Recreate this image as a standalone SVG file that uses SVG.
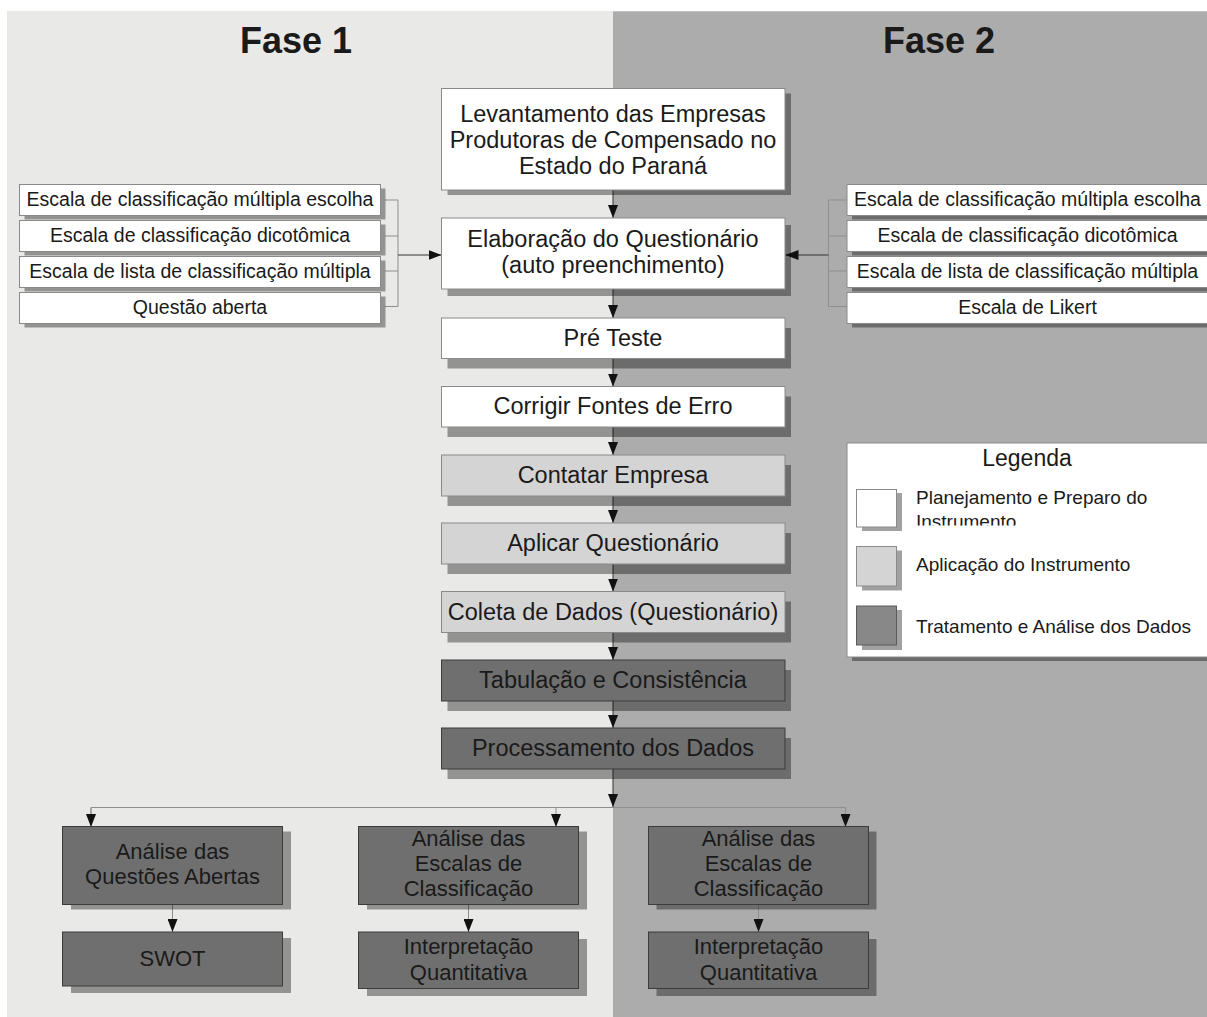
<svg xmlns="http://www.w3.org/2000/svg" width="1207" height="1017" viewBox="0 0 1207 1017">
<defs>
<style>
text{font-family:"Liberation Sans",Arial,sans-serif;fill:#1a1a1a;text-anchor:middle}
.t{font-size:23.5px}
.s{font-size:19.5px}
.b{font-size:22px}
.lg{font-size:19px;text-anchor:start}
.h{font-size:36px;font-weight:bold}
.sh{fill:#000;fill-opacity:0.37}
.w{fill:#fff;stroke:#8a8a8a;stroke-width:1}
.g{fill:#d4d4d4;stroke:#8a8a8a;stroke-width:1}
.d{fill:#6f6f6f;stroke:#3c3c3c;stroke-width:1}
.c{fill:none;stroke:#333;stroke-width:1}
.cl{fill:none;stroke:#8f8f8f;stroke-width:1}
</style>
<marker id="ahd" viewBox="0 0 13 10" refX="13" refY="5" markerWidth="13" markerHeight="10" markerUnits="userSpaceOnUse" orient="auto">
<path d="M0,0 L13,5 L0,10 Z" fill="#111"/>
</marker>
<clipPath id="clipInst"><rect x="900" y="495" width="300" height="30.5"/></clipPath>
</defs>

<g id="background">
<rect x="7" y="11" width="606" height="1006" fill="#e9e9e8"/>
<rect x="613" y="11" width="594" height="1006" fill="#acacac"/>
<line x1="613" y1="11.5" x2="1207" y2="11.5" stroke="#c4c4c4" stroke-width="1"/>
<text class="h" x="296" y="53">Fase 1</text>
<text class="h" x="939" y="53">Fase 2</text>
</g>

<g id="connectors">
<line class="c" x1="613" y1="190" x2="613" y2="218" marker-end="url(#ahd)"/>
<line class="c" x1="613" y1="289" x2="613" y2="318" marker-end="url(#ahd)"/>
<line class="c" x1="613" y1="359" x2="613" y2="386.5" marker-end="url(#ahd)"/>
<line class="c" x1="613" y1="427" x2="613" y2="455" marker-end="url(#ahd)"/>
<line class="c" x1="613" y1="496" x2="613" y2="523" marker-end="url(#ahd)"/>
<line class="c" x1="613" y1="564" x2="613" y2="591.5" marker-end="url(#ahd)"/>
<line class="c" x1="613" y1="632" x2="613" y2="660" marker-end="url(#ahd)"/>
<line class="c" x1="613" y1="701" x2="613" y2="728" marker-end="url(#ahd)"/>
<line class="c" x1="613" y1="769" x2="613" y2="807" marker-end="url(#ahd)"/>
<polyline class="cl" points="91,827 91,807.5 845.5,807.5 845.5,827"/>
<line class="cl" x1="556" y1="807.5" x2="556" y2="827" marker-end="url(#ahd)"/>
<line class="cl" x1="91" y1="807.5" x2="91" y2="827" marker-end="url(#ahd)"/>
<line class="cl" x1="845.5" y1="807.5" x2="845.5" y2="827" marker-end="url(#ahd)"/>
<line class="cl" x1="172.5" y1="904.5" x2="172.5" y2="932" marker-end="url(#ahd)"/>
<line class="cl" x1="468.5" y1="904.5" x2="468.5" y2="932" marker-end="url(#ahd)"/>
<line class="cl" x1="758.5" y1="904.5" x2="758.5" y2="932" marker-end="url(#ahd)"/>
<polyline class="cl" points="385,200 398,200 398,306.5 385,306.5"/>
<line class="cl" x1="385" y1="236" x2="398" y2="236"/>
<line class="cl" x1="385" y1="271" x2="398" y2="271"/>
<line class="c" x1="398" y1="255" x2="441.5" y2="255" marker-end="url(#ahd)"/>
<polyline class="cl" points="847,200 828.5,200 828.5,306.5 847,306.5"/>
<line class="cl" x1="828.5" y1="236" x2="847" y2="236"/>
<line class="cl" x1="828.5" y1="271" x2="847" y2="271"/>
<line class="c" x1="828.5" y1="255" x2="785.5" y2="255" marker-end="url(#ahd)"/>
</g>

<g id="n-levantamento">
<rect class="sh" x="447.5" y="93.5" width="343.5" height="101.5"/>
<rect class="w" x="441.5" y="88.5" width="343.5" height="101.5"/>
<text class="t" x="613" y="121.5">Levantamento das Empresas</text>
<text class="t" x="613" y="147.5">Produtoras de Compensado no</text>
<text class="t" x="613" y="173.5">Estado do Paraná</text>
</g>
<g id="n-elaboracao">
<rect class="sh" x="447.5" y="225" width="343.5" height="71"/>
<rect class="w" x="441.5" y="218" width="343.5" height="71"/>
<text class="t" x="613" y="246.5">Elaboração do Questionário</text>
<text class="t" x="613" y="272.5">(auto preenchimento)</text>
</g>
<g id="n-preteste">
<rect class="sh" x="447.5" y="328" width="343.5" height="40.5"/>
<rect class="w" x="441.5" y="318" width="343.5" height="40.5"/>
<text class="t" x="613" y="346">Pré Teste</text>
</g>
<g id="n-corrigir">
<rect class="sh" x="447.5" y="396.5" width="343.5" height="40.5"/>
<rect class="w" x="441.5" y="386.5" width="343.5" height="40.5"/>
<text class="t" x="613" y="414">Corrigir Fontes de Erro</text>
</g>
<g id="n-contatar">
<rect class="sh" x="447.5" y="465" width="343.5" height="41"/>
<rect class="g" x="441.5" y="455" width="343.5" height="41"/>
<text class="t" x="613" y="483">Contatar Empresa</text>
</g>
<g id="n-aplicar">
<rect class="sh" x="447.5" y="533" width="343.5" height="41"/>
<rect class="g" x="441.5" y="523" width="343.5" height="41"/>
<text class="t" x="613" y="551">Aplicar Questionário</text>
</g>
<g id="n-coleta">
<rect class="sh" x="447.5" y="601.5" width="343.5" height="41"/>
<rect class="g" x="441.5" y="591.5" width="343.5" height="41"/>
<text class="t" x="613" y="619.5">Coleta de Dados (Questionário)</text>
</g>
<g id="n-tabulacao">
<rect class="sh" x="447.5" y="670" width="343.5" height="41"/>
<rect class="d" x="441.5" y="660" width="343.5" height="41"/>
<text class="t" x="613" y="688">Tabulação e Consistência</text>
</g>
<g id="n-processamento">
<rect class="sh" x="447.5" y="738" width="343.5" height="41"/>
<rect class="d" x="441.5" y="728" width="343.5" height="41"/>
<text class="t" x="613" y="756">Processamento dos Dados</text>
</g>

<g id="left-scales">
<rect class="sh" x="24.5" y="188.5" width="361" height="31"/>
<rect class="w" x="19.5" y="184.5" width="361" height="31"/>
<text class="s" x="200" y="206">Escala de classificação múltipla escolha</text>
<rect class="sh" x="24.5" y="224.5" width="361" height="31"/>
<rect class="w" x="19.5" y="220.5" width="361" height="31"/>
<text class="s" x="200" y="242">Escala de classificação dicotômica</text>
<rect class="sh" x="24.5" y="260.5" width="361" height="31"/>
<rect class="w" x="19.5" y="256.5" width="361" height="31"/>
<text class="s" x="200" y="278">Escala de lista de classificação múltipla</text>
<rect class="sh" x="24.5" y="296.5" width="361" height="31"/>
<rect class="w" x="19.5" y="292.5" width="361" height="31"/>
<text class="s" x="200" y="314">Questão aberta</text>
</g>

<g id="right-scales">
<rect class="sh" x="852" y="188.5" width="362" height="31"/>
<rect class="w" x="847" y="184.5" width="362" height="31"/>
<text class="s" x="1027.5" y="206">Escala de classificação múltipla escolha</text>
<rect class="sh" x="852" y="224.5" width="362" height="31"/>
<rect class="w" x="847" y="220.5" width="362" height="31"/>
<text class="s" x="1027.5" y="242">Escala de classificação dicotômica</text>
<rect class="sh" x="852" y="260.5" width="362" height="31"/>
<rect class="w" x="847" y="256.5" width="362" height="31"/>
<text class="s" x="1027.5" y="278">Escala de lista de classificação múltipla</text>
<rect class="sh" x="852" y="296.5" width="362" height="31"/>
<rect class="w" x="847" y="292.5" width="362" height="31"/>
<text class="s" x="1027.5" y="314">Escala de Likert</text>
</g>

<g id="legend">
<rect class="sh" x="852" y="447" width="362" height="214"/>
<rect class="w" x="847" y="443" width="362" height="214"/>
<text x="1027" y="466" style="font-size:23px">Legenda</text>
<rect class="sh" x="862" y="493" width="40" height="38"/>
<rect class="w" x="856.5" y="489.5" width="40" height="37.5"/>
<text class="lg" x="916" y="504">Planejamento e Preparo do</text>
<text class="lg" x="916" y="528" clip-path="url(#clipInst)">Instrumento</text>
<rect class="sh" x="862" y="550.5" width="40" height="40"/>
<rect class="g" x="856.5" y="546.5" width="40" height="39.5"/>
<text class="lg" x="916" y="571">Aplicação do Instrumento</text>
<rect x="862" y="610" width="40" height="40" class="sh"/>
<rect x="856.5" y="606" width="40" height="39" fill="#888" stroke="#5a5a5a" stroke-width="1"/>
<text class="lg" x="916" y="633">Tratamento e Análise dos Dados</text>
</g>

<g id="n-analise-abertas">
<rect class="sh" x="71" y="831.5" width="220" height="78"/>
<rect class="d" x="62.5" y="826.5" width="220" height="78"/>
<text class="b" x="172.5" y="859">Análise das</text>
<text class="b" x="172.5" y="884">Questões Abertas</text>
</g>
<g id="n-swot">
<rect class="sh" x="71" y="938" width="220" height="55"/>
<rect class="d" x="62.5" y="932" width="220" height="54"/>
<text class="b" x="172.5" y="966">SWOT</text>
</g>
<g id="n-analise-escalas-1">
<rect class="sh" x="367" y="831.5" width="220" height="78"/>
<rect class="d" x="358.5" y="826.5" width="220" height="78"/>
<text class="b" x="468.5" y="846">Análise das</text>
<text class="b" x="468.5" y="871">Escalas de</text>
<text class="b" x="468.5" y="896">Classificação</text>
</g>
<g id="n-interp-1">
<rect class="sh" x="367" y="939" width="220" height="57"/>
<rect class="d" x="358.5" y="932" width="220" height="56.5"/>
<text class="b" x="468.5" y="954">Interpretação</text>
<text class="b" x="468.5" y="979.5">Quantitativa</text>
</g>
<g id="n-analise-escalas-2">
<rect class="sh" x="656.5" y="831.5" width="220" height="78"/>
<rect class="d" x="648.5" y="826.5" width="220" height="78"/>
<text class="b" x="758.5" y="846">Análise das</text>
<text class="b" x="758.5" y="871">Escalas de</text>
<text class="b" x="758.5" y="896">Classificação</text>
</g>
<g id="n-interp-2">
<rect class="sh" x="656.5" y="939" width="220" height="57"/>
<rect class="d" x="648.5" y="932" width="220" height="56.5"/>
<text class="b" x="758.5" y="954">Interpretação</text>
<text class="b" x="758.5" y="979.5">Quantitativa</text>
</g>
</svg>
